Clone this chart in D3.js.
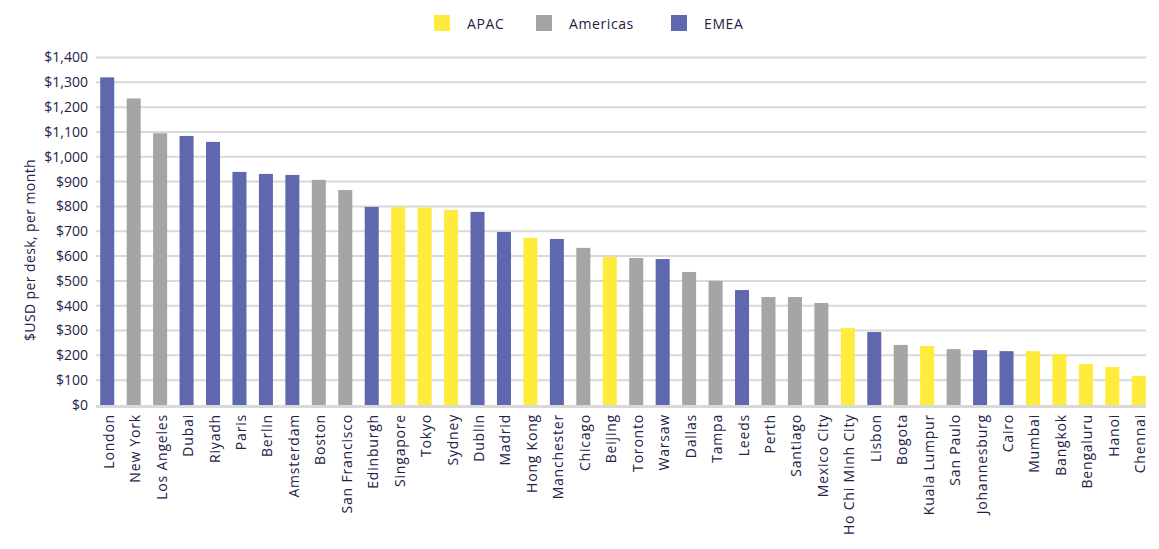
<!DOCTYPE html>
<html><head><meta charset="utf-8">
<script src="https://cdn.jsdelivr.net/npm/d3@7"></script>
<style>
body{margin:0;background:#fff;}
svg{font-family:"Open Sans",sans-serif;}
</style></head>
<body><svg id="c" width="1159" height="549"></svg>
<script>
const cities = ["London","New York","Los Angeles","Dubai","Riyadh","Paris","Berlin","Amsterdam","Boston","San Francisco","Edinburgh","Singapore","Tokyo","Sydney","Dublin","Madrid","Hong Kong","Manchester","Chicago","Beijing","Toronto","Warsaw","Dallas","Tampa","Leeds","Perth","Santiago","Mexico City","Ho Chi Minh City","Lisbon","Bogota","Kuala Lumpur","San Paulo","Johannesburg","Cairo","Mumbai","Bangkok","Bengaluru","Hanoi","Chennai"];
const values = [1320,1235,1095,1084,1060,939,931,927,907,866,798,797,795,786,778,697,673,669,633,596,592,588,536,500,463,435,435,411,310,294,242,238,225,221,217,217,205,165,153,117];
const regions = ["EMEA","Americas","Americas","EMEA","EMEA","EMEA","EMEA","EMEA","Americas","Americas","EMEA","APAC","APAC","APAC","EMEA","EMEA","APAC","EMEA","Americas","APAC","Americas","EMEA","Americas","Americas","EMEA","Americas","Americas","Americas","APAC","EMEA","Americas","APAC","Americas","EMEA","EMEA","APAC","APAC","APAC","APAC","APAC"];
const regionNames = ["APAC","Americas","EMEA"];
const regionColors = ["#ffeb3b","#a5a5a5","#5f67af"];
const yTicks = [0,100,200,300,400,500,600,700,800,900,1000,1100,1200,1300,1400];

const svg = d3.select("#c");
const textColor = "#1f2147";
const color = d3.scaleOrdinal().domain(regionNames).range(regionColors);
const x = d3.scaleBand().domain(cities).range([94,1152]).paddingInner(0.47).paddingOuter(0.235);
const y = d3.scaleLinear().domain([0,1400]).range([405,57.5]);
const gx0 = 96, gx1 = 1146;

svg.append("g").selectAll("line").data(yTicks.filter(d=>d>0)).join("line")
  .attr("x1",gx0).attr("x2",gx1).attr("y1",d=>y(d)).attr("y2",d=>y(d))
  .attr("stroke","#d9d9d9").attr("stroke-width",2);

svg.append("g").selectAll("text").data(yTicks).join("text")
  .attr("x",88).attr("y",d=>y(d)).attr("dy","0.35em").attr("text-anchor","end")
  .attr("font-size",14).attr("fill",textColor)
  .text(d=>"$"+d3.format(",")(d));

svg.append("g").selectAll("rect").data(cities).join("rect")
  .attr("x",d=>x(d)).attr("width",x.bandwidth())
  .attr("y",(d,i)=>y(values[i])).attr("height",(d,i)=>y(0)-y(values[i]))
  .attr("fill",(d,i)=>color(regions[i]));

svg.append("line").attr("x1",gx0).attr("x2",gx1).attr("y1",y(0)+1.5).attr("y2",y(0)+1.5)
  .attr("stroke","#d9d9d9").attr("stroke-width",3);

svg.append("g").selectAll("text").data(cities).join("text")
  .attr("transform",d=>`translate(${x(d)+x.bandwidth()/2+6.5},414) rotate(-90)`)
  .attr("text-anchor","end").attr("font-size",14).attr("letter-spacing",0.8).attr("fill",textColor)
  .text(d=>d);

svg.append("text").attr("transform","translate(35,250) rotate(-90)")
  .attr("text-anchor","middle").attr("font-size",14).attr("letter-spacing",0.4).attr("fill",textColor)
  .text("$USD per desk, per month");

const legX = [434,536,671];
const lg = svg.append("g").selectAll("g").data(regionNames).join("g")
  .attr("transform",(d,i)=>`translate(${legX[i]},15)`);
lg.append("rect").attr("width",16).attr("height",16).attr("fill",d=>color(d));
lg.append("text").attr("x",33).attr("y",13.5).attr("font-size",14).attr("letter-spacing",0.6).attr("fill",textColor).text(d=>d);
</script></body></html>
